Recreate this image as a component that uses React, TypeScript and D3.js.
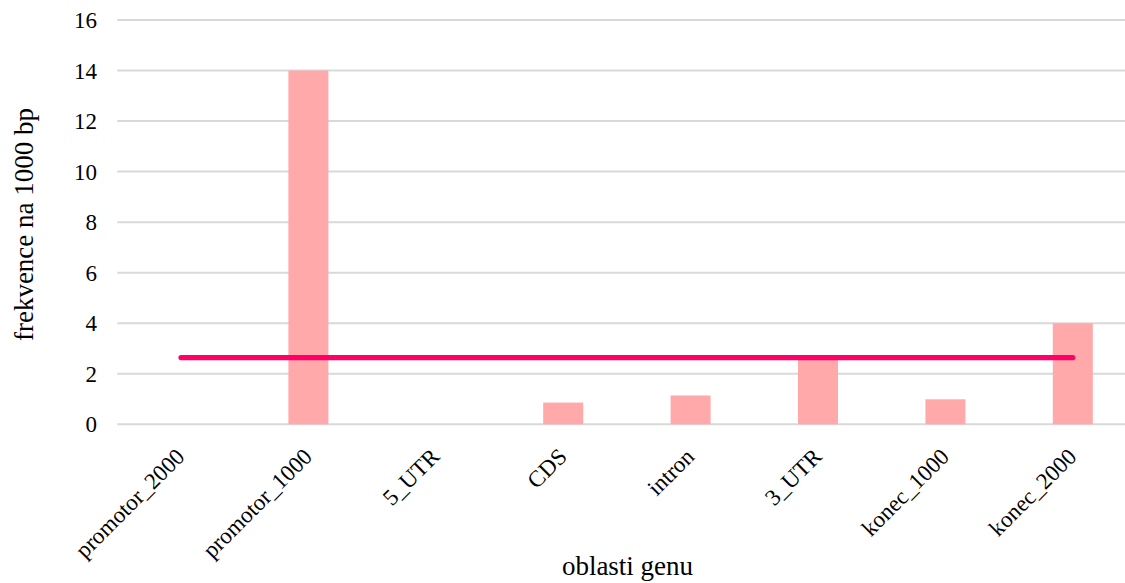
import React from "react";
import * as d3 from "d3";

const categories = [
  "promotor_2000",
  "promotor_1000",
  "5_UTR",
  "CDS",
  "intron",
  "3_UTR",
  "konec_1000",
  "konec_2000",
];
const barValues = [0, 14, 0, 0.86, 1.14, 2.6, 0.99, 4];
const lineValues = [2.64, 2.64, 2.64, 2.64, 2.64, 2.64, 2.64, 2.64];
const yTicks = [0, 2, 4, 6, 8, 10, 12, 14, 16];

const W = 1125;
const H = 583;
const plotLeft = 117.3;
const plotRight = 1136.5;
const plotTop = 20;
const plotBottom = 424.3;

export default function App() {
  const x = d3.scaleBand<string>().domain(categories).range([plotLeft, plotRight]).padding(0);
  const y = d3.scaleLinear().domain([0, 16]).range([plotBottom, plotTop]);
  const barW = x.step() * 0.314;
  const cx = (c: string) => (x(c) as number) + x.bandwidth() / 2;

  const line = d3
    .line<number>()
    .x((_, i) => cx(categories[i]))
    .y((d) => y(d));

  return (
    <svg
      width={W}
      height={H}
      style={{ position: "absolute", left: 0, top: 0, background: "#fff" }}
    >
      {yTicks.map((t) => (
        <line key={"g" + t} x1={plotLeft} x2={W} y1={y(t)} y2={y(t)} stroke="#d9d9d9" strokeWidth={2} />
      ))}
      {yTicks.map((t) => (
        <text key={"t" + t} x={97} y={y(t) + 8} textAnchor="end" fontSize={23} fill="#000" style={{ fontFamily: '"Liberation Serif"' }}>
          {t}
        </text>
      ))}
      {categories.map((c, i) => (
        <rect
          key={c}
          x={cx(c) - barW / 2}
          y={y(barValues[i])}
          width={barW}
          height={y(0) - y(barValues[i])}
          fill="#FFA9AB"
        />
      ))}
      <path
        d={line(lineValues) as string}
        fill="none"
        stroke="#FF0066"
        strokeWidth={5.2}
        strokeLinecap="round"
      />
      {categories.map((c) => (
        <text
          key={"l" + c}
          transform={`translate(${cx(c) + 5},${458}) rotate(-45)`}
          textAnchor="end"
          fontSize={23}
          fill="#000"
          style={{ fontFamily: '"Liberation Serif"' }}
        >
          {c}
        </text>
      ))}
      <text
        transform={`translate(33,${224.5}) rotate(-90)`}
        textAnchor="middle"
        fontSize={27}
        fill="#000"
        style={{ fontFamily: '"Liberation Serif"' }}
      >
        frekvence na 1000 bp
      </text>
      <text x={627.5} y={575} textAnchor="middle" fontSize={27} fill="#000" style={{ fontFamily: '"Liberation Serif"' }}>
        oblasti genu
      </text>
    </svg>
  );
}
